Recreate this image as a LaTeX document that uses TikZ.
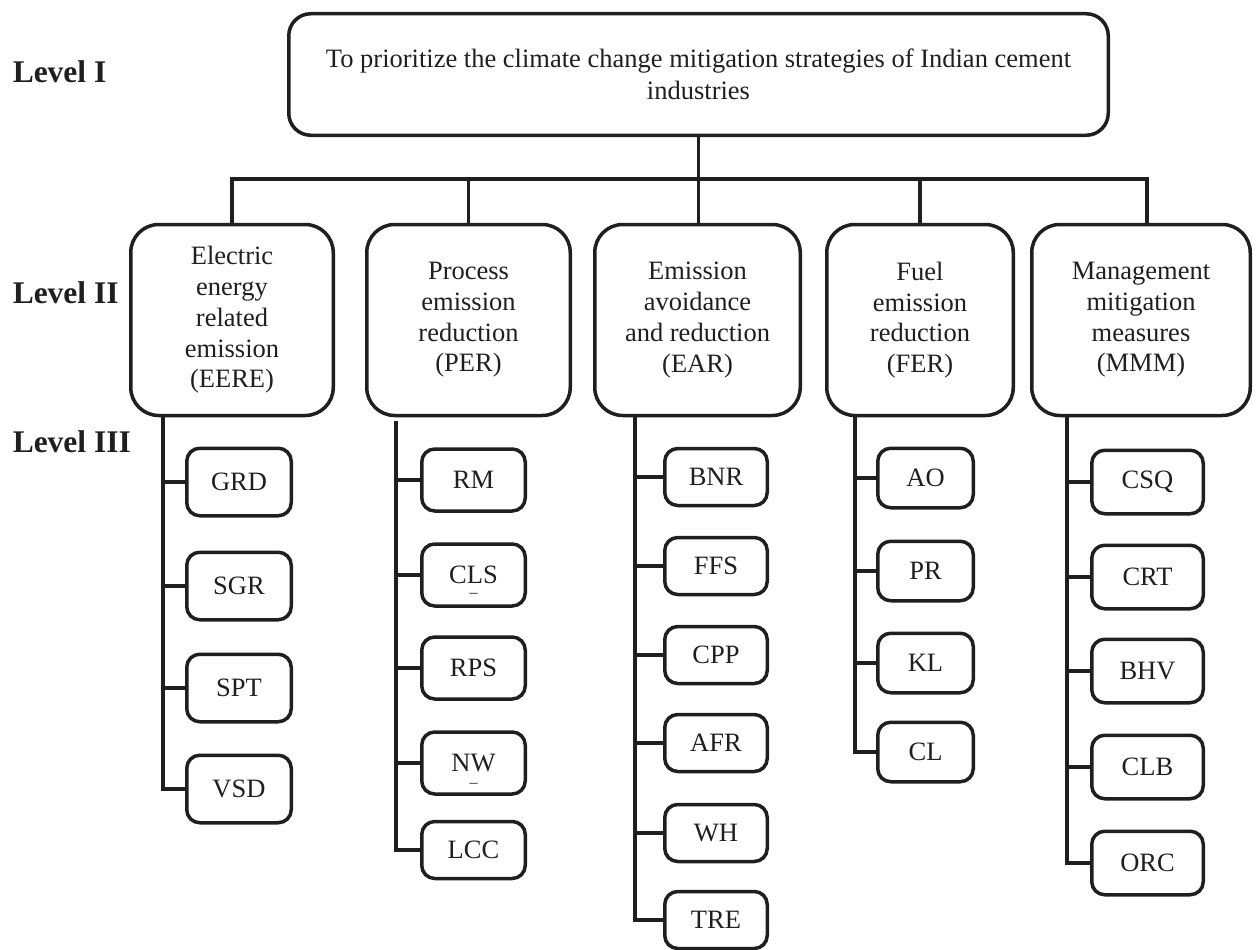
\documentclass[tikz,border=0pt]{standalone}
\usepackage{fontspec}
\setmainfont{Liberation Serif}
\usepackage{tikz}
\newcommand{\dashunder}[2]{\ooalign{#1\cr\hidewidth\raisebox{#2}[0pt][0pt]{\fontsize{16}{16}\selectfont --}\hidewidth\cr}}

\begin{document}
\begin{tikzpicture}[x=1pt, y=-1pt, line width=3.5pt, color=black!88,
	every node/.style={font=\fontsize{26.5}{30.75}\selectfont, inner sep=0pt},
	goal/.style={draw, rounded corners=22pt, minimum width=819.5pt, minimum height=121.5pt, align=center},
	crit/.style={draw, rounded corners=28pt, minimum width=#1, minimum height=191pt, align=center},
	alt/.style 2 args={draw, rounded corners=13pt, minimum width=#1, minimum height=#2},
	lvl/.style={font=\fontsize{31.5}{36}\selectfont\bfseries, anchor=base west}]
	\useasboundingbox (0,0) rectangle (1259,950);

	\node[lvl] (lvlone) at (11,83) {Level I};
	\node[lvl] (lvltwo) at (11,303) {Level II};
	\node[lvl] (lvlthree) at (11,452) {Level III};

	\node[goal] (goal) at (698.5,74.5) {To prioritize the climate change mitigation strategies of Indian cement\\[1pt]industries};

	\node[crit=202.5pt] (eere) at (232,320) {Electric\\energy\\related\\emission\\(EERE)};
	\node[crit=203.5pt] (per) at (468.5,320) {Process\\emission\\reduction\\(PER)};
	\node[crit=205.5pt] (ear) at (697.5,320) {Emission\\avoidance\\and reduction\\(EAR)};
	\node[crit=186.5pt] (fer) at (920,320) {Fuel\\emission\\reduction\\(FER)};
	\node[crit=218.5pt] (mmm) at (1141,320) {Management\\mitigation\\measures\\(MMM)};

	\coordinate (bar) at (698,179);
	\draw (goal.south) -- (goal.south |- ear.north);
	\draw (eere.north) |- (bar) -| ([xshift=6pt]mmm.north);
	\draw (per.north) -- (per.north |- bar);
	\draw (fer.north) -- (fer.north |- bar);

	\node[alt={104.5pt}{67.5pt}] (grd) at (239,482) {GRD};
	\node[alt={104.5pt}{67.5pt}] (sgr) at (239,586) {SGR};
	\node[alt={104.5pt}{67.5pt}] (spt) at (239,688) {SPT};
	\node[alt={104.5pt}{67.5pt}] (vsd) at (239,789) {VSD};

	\node[alt={103.5pt}{62pt}] (rm) at (473.5,480) {RM};
	\node[alt={103.5pt}{62pt}] (cls) at (473.5,575) {\dashunder{CLS}{-14pt}};
	\node[alt={103.5pt}{62pt}] (rps) at (473.5,668) {RPS};
	\node[alt={103.5pt}{62pt}] (nw) at (473.5,763) {\dashunder{NW}{-16pt}};
	\node[alt={103.5pt}{57pt}] (lcc) at (473.5,850) {LCC};

	\node[alt={102.5pt}{57pt}] (bnr) at (716,477) {BNR};
	\node[alt={102.5pt}{57pt}] (ffs) at (716,566) {FFS};
	\node[alt={102.5pt}{57pt}] (cpp) at (716,655) {CPP};
	\node[alt={102.5pt}{57pt}] (afr) at (716,743) {AFR};
	\node[alt={102.5pt}{57pt}] (wh) at (716,833) {WH};
	\node[alt={102.5pt}{57pt}] (tre) at (716,920) {TRE};

	\node[alt={95.5pt}{59.5pt}] (ao) at (925.5,478) {AO};
	\node[alt={95.5pt}{59.5pt}] (pr) at (925.5,571) {PR};
	\node[alt={95.5pt}{59.5pt}] (kl) at (925.5,663) {KL};
	\node[alt={95.5pt}{59.5pt}] (cl) at (925.5,752) {CL};

	\node[alt={111.5pt}{63.5pt}] (csq) at (1147.5,482) {CSQ};
	\node[alt={111.5pt}{63.5pt}] (crt) at (1147.5,577) {CRT};
	\node[alt={111.5pt}{63.5pt}] (bhv) at (1147.5,671) {BHV};
	\node[alt={111.5pt}{63.5pt}] (clb) at (1147.5,767) {CLB};
	\node[alt={111.5pt}{63.5pt}] (orc) at (1147.5,863) {ORC};

	\coordinate (eerespine) at (163,416);
	\coordinate (perspine) at (396,421);
	\coordinate (earspine) at (635,417);
	\coordinate (ferspine) at (855,416);
	\coordinate (mmmspine) at (1067,416);

	\draw (eerespine) |- (vsd.west);
	\draw (eerespine |- grd) -- (grd.west);
	\draw (eerespine |- sgr) -- (sgr.west);
	\draw (eerespine |- spt) -- (spt.west);

	\draw (perspine) |- (lcc.west);
	\draw (perspine |- rm) -- (rm.west);
	\draw (perspine |- cls) -- (cls.west);
	\draw (perspine |- rps) -- (rps.west);
	\draw (perspine |- nw) -- (nw.west);

	\draw (earspine) |- (tre.west);
	\draw (earspine |- bnr) -- (bnr.west);
	\draw (earspine |- ffs) -- (ffs.west);
	\draw (earspine |- cpp) -- (cpp.west);
	\draw (earspine |- afr) -- (afr.west);
	\draw (earspine |- wh) -- (wh.west);

	\draw (ferspine) |- (cl.west);
	\draw (ferspine |- ao) -- (ao.west);
	\draw (ferspine |- pr) -- (pr.west);
	\draw (ferspine |- kl) -- (kl.west);

	\draw (mmmspine) |- (orc.west);
	\draw (mmmspine |- csq) -- (csq.west);
	\draw (mmmspine |- crt) -- (crt.west);
	\draw (mmmspine |- bhv) -- (bhv.west);
	\draw (mmmspine |- clb) -- (clb.west);
\end{tikzpicture}
\end{document}
